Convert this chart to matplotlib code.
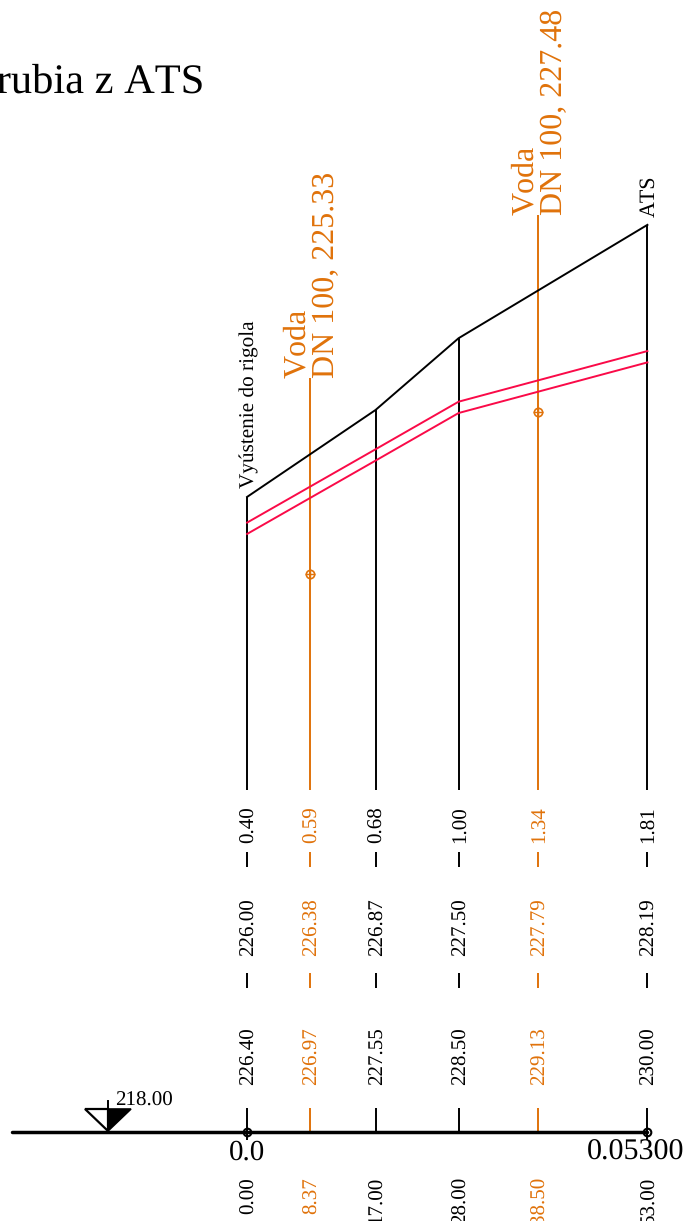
import matplotlib
matplotlib.use("Agg")
import matplotlib.pyplot as plt
from matplotlib.transforms import Affine2D, blended_transform_factory

plt.rcParams['font.family'] = ['Liberation Serif', 'DejaVu Sans']
plt.rcParams['text.kerning_factor'] = 6
plt.rcParams['text.hinting'] = 'no_hinting'

# --- data ---
stations = [0.0, 17.0, 28.0, 53.0]
terrain = [226.40, 227.55, 228.50, 230.00]
pipe_top = [226.06, 227.03, 227.66, 228.33]
pipe_bottom = [225.91, 226.88, 227.51, 228.18]
utility_x = [8.37, 38.50]
utility_top = [227.97, 230.13]
utility_level = [225.38, 227.53]
utility_names = ["DN 100, 225.33", "DN 100, 227.48"]

column_x = [0.0, 8.37, 17.0, 28.0, 38.50, 53.0]
column_kind = ["k", "o", "k", "k", "o", "k"]
row_depth = ["0.40", "0.59", "0.68", "1.00", "1.34", "1.81"]
row_invert = ["226.00", "226.38", "226.87", "227.50", "227.79", "228.19"]
row_ground = ["226.40", "226.97", "227.55", "228.50", "229.13", "230.00"]
row_station = ["0.00", "8.37", "17.00", "28.00", "38.50", "53.00"]

datum = 218.0
axis_start = -31.1
drop_bottom = 222.52

BLACK = "#000000"
ORANGE = "#E0720A"
RED = "#FA0A48"
COL = {"k": BLACK, "o": ORANGE}

W, H = 699, 1221
fig = plt.figure(figsize=(W / 100, H / 100), dpi=100)
ax = fig.add_axes([0, 0, 1, 1])
x0, sx = 247.1, 7.553
y0, sy = 1131.7, 75.57
ax.set_xlim((0 - x0) / sx, (W - x0) / sx)
ax.set_ylim(datum - (H - y0) / sy, datum + y0 / sy)
ax.axis("off")

px_y = Affine2D().scale(1, -1).translate(0, H)       # y measured from the top in pixels
tr = blended_transform_factory(ax.transData, px_y)
px = px_y                                            # both axes in pixels
# rotated text sits about 1.8 px left of its anchor: nudge it back
tr_txt = tr + Affine2D().translate(1.8, 0)


def pt(p):
    return p * 72 / 100


LW = 1.4
# terrain and drop lines
ax.plot(stations, terrain, color=BLACK, lw=LW, solid_joinstyle="round", zorder=3)
for x, t in zip(stations, terrain):
    ax.plot([x, x], [drop_bottom, t], color=BLACK, lw=LW, solid_capstyle="butt", zorder=2)

# pipe
ax.plot(stations, pipe_top, color=RED, lw=LW, zorder=4)
ax.plot(stations, pipe_bottom, color=RED, lw=LW, zorder=4)

# crossing utilities
for x, top, lev, name in zip(utility_x, utility_top, utility_level, utility_names):
    ax.plot([x, x], [drop_bottom, top], color=ORANGE, lw=LW, solid_capstyle="butt", zorder=2)
    ax.plot([x], [lev], marker="o", ms=6.0, mfc="none", mec=ORANGE, mew=1.2, zorder=5)
    ax.plot([x], [lev], marker="+", ms=6.5, mec=ORANGE, mew=1.0, zorder=5)
    ax.annotate("Voda", (x, top), xytext=(-pt(12.5), 0), textcoords="offset points",
                rotation=90, ha="center", va="bottom", color=ORANGE, fontsize=pt(32))
    ax.annotate(name, (x, top), xytext=(pt(16), 0), textcoords="offset points",
                rotation=90, ha="center", va="bottom", color=ORANGE, fontsize=pt(32))

# end labels
ax.annotate("Vyústenie do rigola", (stations[0], terrain[0]), xytext=(pt(2), pt(9)),
            textcoords="offset points", rotation=90, ha="center", va="bottom",
            color=BLACK, fontsize=pt(21.3))
ax.annotate("ATS", (stations[-1], terrain[-1]), xytext=(pt(2), pt(8)),
            textcoords="offset points", rotation=90, ha="center", va="bottom",
            color=BLACK, fontsize=pt(22))

# table rows
for x, kind, a, b, c, d in zip(column_x, column_kind, row_depth, row_invert, row_ground, row_station):
    col = COL[kind]
    kw = dict(rotation=90, ha="center", color=col, fontsize=pt(21), transform=tr_txt)
    ax.text(x, 825, a, va="center", **kw)
    ax.text(x, 956, b, va="bottom", **kw)
    ax.text(x, 1085, c, va="bottom", **kw)
    ax.text(x, 1177, d, va="top", **kw)
    ax.plot([x, x], [852, 867], color=col, lw=LW, solid_capstyle="butt", transform=tr)
    ax.plot([x, x], [973, 988], color=col, lw=LW, solid_capstyle="butt", transform=tr)
    ax.plot([x, x], [1108, 1131], color=col, lw=LW, solid_capstyle="butt", transform=tr)

# datum axis
ax.plot([axis_start, stations[-1]], [datum, datum], color=BLACK, lw=2.5, solid_capstyle="round", zorder=6)
for x in (stations[0], stations[-1]):
    ax.plot([x, x], [1131, 1140], color=BLACK, lw=LW, solid_capstyle="butt", transform=tr, zorder=6)
    ax.plot([x], [datum], marker="o", ms=5.5, mfc="none", mec=BLACK, mew=1.5, zorder=7)

ax.text(stations[0], 1160, "0.0", ha="center", va="baseline", fontsize=pt(29), transform=tr, color=BLACK)
ax.text(53.0 + 36.5 / sx, 1160, "0.05300", ha="right", va="baseline", fontsize=pt(30), transform=tr, color=BLACK)

# datum marker
ax.fill([85, 108, 108], [1109, 1109, 1131], facecolor="white", edgecolor=BLACK, lw=1.6, transform=px, zorder=5)
ax.fill([108, 131, 108], [1109, 1109, 1131], facecolor=BLACK, edgecolor=BLACK, lw=1.2, transform=px, zorder=5)
ax.plot([108, 108], [1101, 1131], color=BLACK, lw=LW, transform=px, zorder=5)
ax.text(115.5, 1106, "218.00", ha="left", va="baseline", fontsize=pt(21), color=BLACK, transform=px)

# title (runs off the left edge)
ax.text(204.5, 93, "Potrubia z ATS", ha="right", va="baseline", fontsize=pt(42.5), color=BLACK,
        transform=px, clip_on=False)

fig.savefig("out.png", dpi=100)
